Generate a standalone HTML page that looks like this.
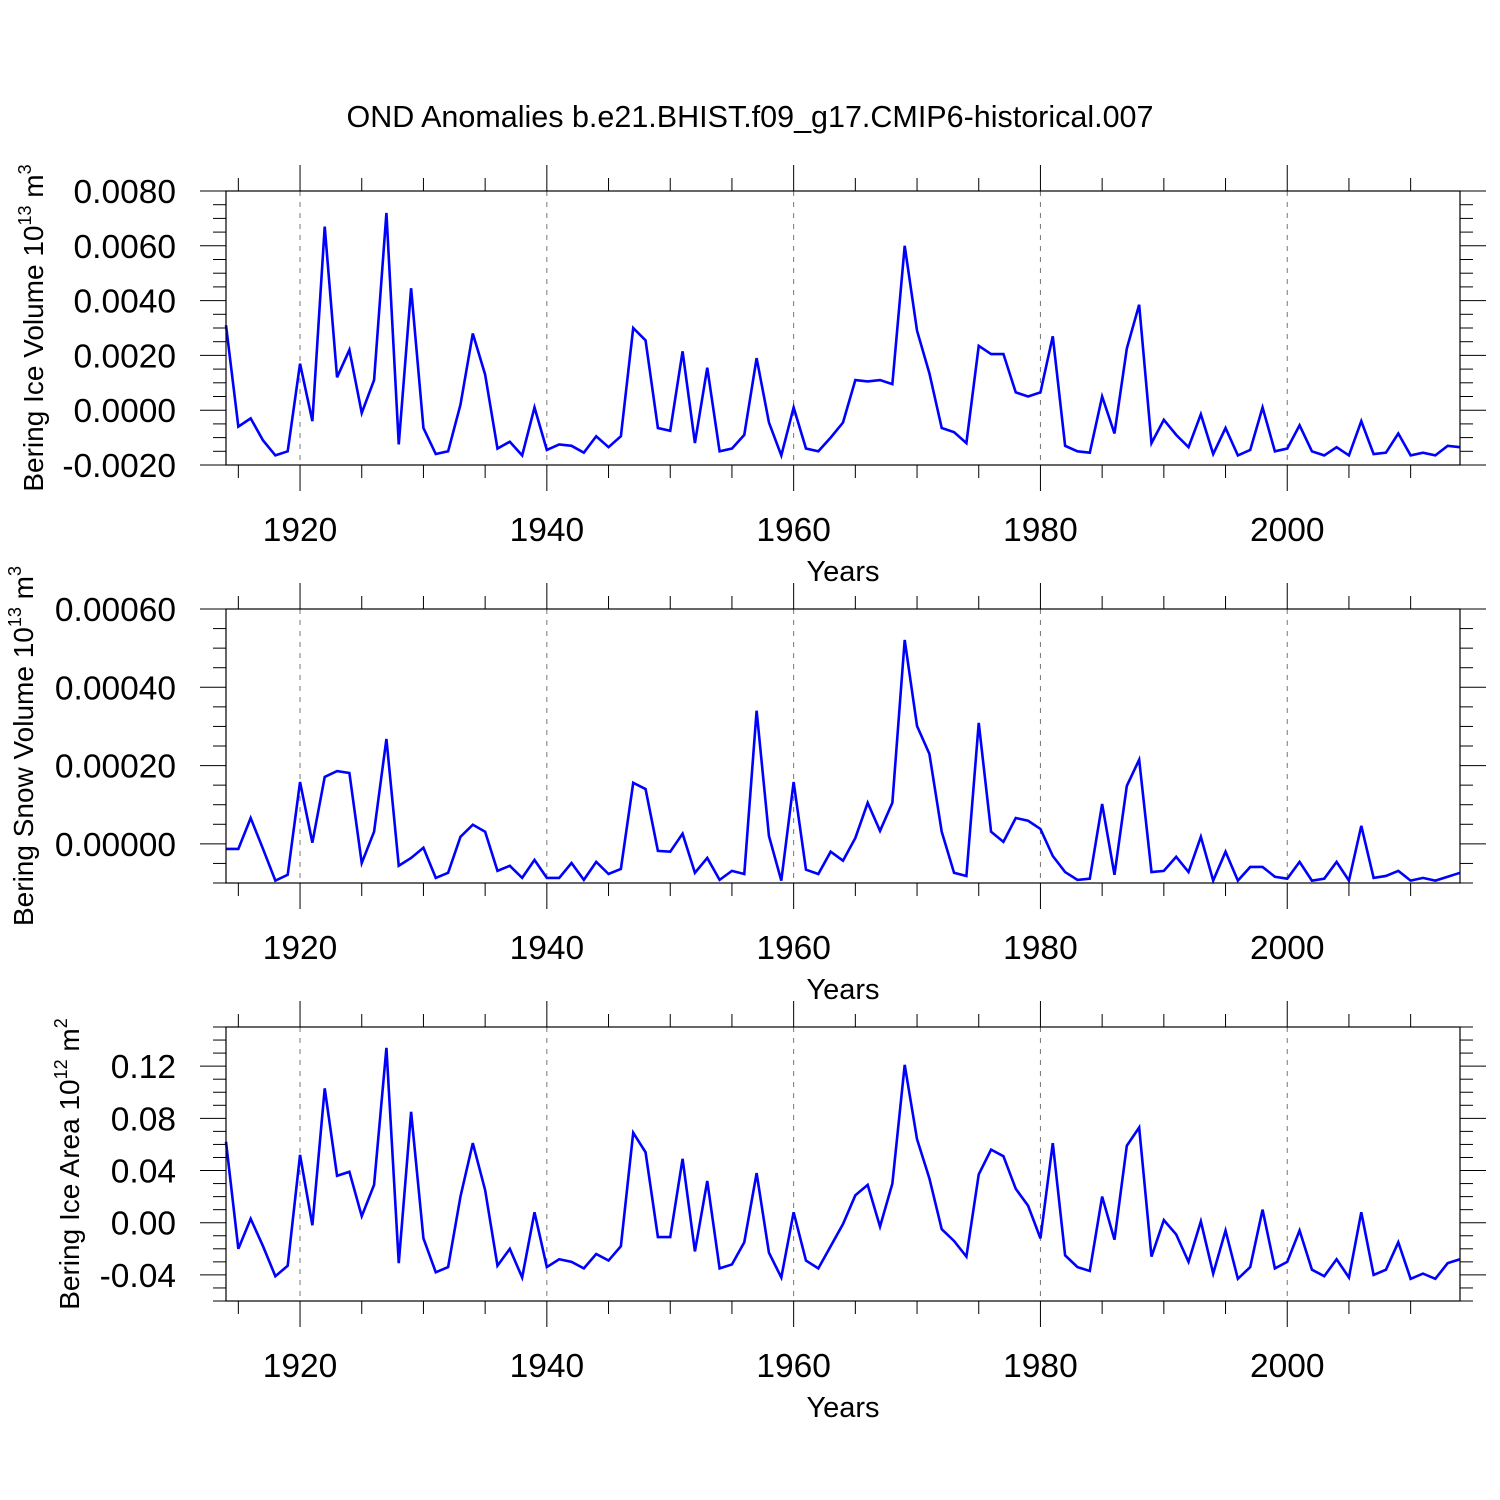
<!DOCTYPE html>
<html><head><meta charset="utf-8"><style>
html,body{margin:0;padding:0;background:#fff;}
svg{display:block;font-family:"Liberation Sans",Arial,sans-serif;}
</style></head><body>
<svg id="chart" width="1500" height="1500" viewBox="0 0 1500 1500" xmlns="http://www.w3.org/2000/svg">
<rect width="1500" height="1500" fill="#fff"/>
<text x="750" y="127" font-size="30.5" text-anchor="middle">OND Anomalies b.e21.BHIST.f09_g17.CMIP6-historical.007</text>
</svg>
<script>
const years = [];
for (let y = 1914; y <= 2014; y++) years.push(y);
const iceVolume = [3.1,-0.6,-0.3,-1.1,-1.65,-1.5,1.7,-0.4,6.7,1.2,2.2,-0.1,1.1,7.2,-1.25,4.45,-0.65,-1.6,-1.5,0.2,2.8,1.3,-1.4,-1.15,-1.65,0.1,-1.45,-1.25,-1.3,-1.55,-0.95,-1.35,-0.95,3.0,2.55,-0.65,-0.75,2.15,-1.2,1.55,-1.5,-1.4,-0.9,1.9,-0.45,-1.65,0.1,-1.4,-1.5,-1.0,-0.45,1.1,1.05,1.1,0.95,6.0,2.9,1.35,-0.65,-0.8,-1.2,2.35,2.05,2.05,0.65,0.5,0.65,2.7,-1.3,-1.5,-1.55,0.5,-0.85,2.25,3.85,-1.2,-0.35,-0.9,-1.35,-0.15,-1.6,-0.65,-1.65,-1.45,0.1,-1.5,-1.4,-0.55,-1.5,-1.65,-1.35,-1.65,-0.4,-1.6,-1.55,-0.85,-1.65,-1.55,-1.65,-1.3,-1.35].map(v=>v*0.001);
const snowVolume = [-1.3,-1.3,6.6,-1.3,-9.4,-7.9,15.8,0.3,17.1,18.6,18.1,-4.9,3.1,26.8,-5.6,-3.6,-1.0,-8.7,-7.4,1.8,4.9,3.1,-6.9,-5.6,-8.7,-4.1,-8.7,-8.7,-4.9,-9.2,-4.6,-7.7,-6.4,15.6,14.0,-1.8,-2.0,2.6,-7.4,-3.6,-9.2,-6.9,-7.7,34.0,2.0,-9.4,15.8,-6.6,-7.7,-2.0,-4.3,1.5,10.5,3.3,10.5,52.1,30.1,23.0,3.1,-7.4,-8.2,30.9,3.1,0.5,6.6,5.9,3.8,-3.1,-7.2,-9.2,-8.9,10.2,-7.9,14.8,21.5,-7.2,-6.9,-3.3,-7.2,1.8,-9.4,-2.0,-9.4,-5.9,-5.9,-8.4,-8.9,-4.6,-9.4,-8.9,-4.6,-9.4,4.6,-8.7,-8.2,-6.9,-9.4,-8.7,-9.4,-8.4,-7.4].map(v=>v*0.00001);
const iceArea = [62,-20,3,-18,-41,-33,52,-2,103,36,39,5,29,134,-31,85,-12,-38,-34,20,61,25,-33,-20,-42,8,-34,-28,-30,-35,-24,-29,-18,69,54,-11,-11,49,-22,32,-35,-32,-15,38,-23,-42,8,-29,-35,-18,-1,21,29,-3,30,121,64,34,-5,-14,-26,37,56,51,26,13,-12,61,-25,-34,-37,20,-13,59,73,-26,2,-9,-30,1,-39,-6,-43,-34,10,-35,-30,-6,-36,-41,-28,-42,8,-40,-36,-15,-43,-39,-43,-31,-28].map(v=>v*0.001);
const xTickYears = [1920,1940,1960,1980,2000];
const ticks1 = ["0.0080","0.0060","0.0040","0.0020","0.0000","-0.0020"];
const ticks2 = ["0.00060","0.00040","0.00020","0.00000"];
const ticks3 = ["0.12","0.08","0.04","0.00","-0.04"];

const NS='http://www.w3.org/2000/svg';
const svg=document.getElementById('chart');
function mk(tag,attrs,parent){const e=document.createElementNS(NS,tag);for(const k in attrs)e.setAttribute(k,attrs[k]);(parent||svg).appendChild(e);return e;}
const X0=226,X1=1460,YR0=1914,YR1=2014;
const xs=y=>X0+(y-YR0)/(YR1-YR0)*(X1-X0);

function panel(cfg){
  const g=mk('g',{});
  
  
  const {top,bot,ymin,ymax}=cfg;
  const ys=v=>bot-(v-ymin)/(ymax-ymin)*(bot-top);
  xTickYears.forEach(yr=>{
    const l=mk('line',{x1:xs(yr),x2:xs(yr),y1:top,y2:bot,stroke:'#777','stroke-width':1,'stroke-dasharray':'5,6'},g);
    
    
  });
  for(let yr=1915;yr<=2010;yr+=5){
    const major=yr%20===0;const L=major?26:13;
    const x=xs(yr);
    mk('line',{x1:x,x2:x,y1:top-L,y2:top,stroke:'#000','stroke-width':1},g);
    mk('line',{x1:x,x2:x,y1:bot,y2:bot+L,stroke:'#000','stroke-width':1},g);
  }
  const nMinor=Math.round((ymax-ymin)/cfg.minor);
  for(let i=0;i<=nMinor;i++){
    const v=ymin+i*cfg.minor;const y=ys(v);
    const r=(v-cfg.major0)/cfg.major;const major=Math.abs(r-Math.round(r))<1e-6;
    const L=major?26:13;
    mk('line',{x1:X0-L,x2:X0,y1:y,y2:y,stroke:'#000','stroke-width':1},g);
    mk('line',{x1:X1,x2:X1+L,y1:y,y2:y,stroke:'#000','stroke-width':1},g);
  }
  cfg.ticks.forEach(t=>{
    const tx=mk('text',{x:176,y:ys(parseFloat(t))+12,'font-size':33.5,'text-anchor':'end'},g);
    tx.textContent=t;
    
    
  });
  xTickYears.forEach(yr=>{
    const tx=mk('text',{x:xs(yr),y:bot+76,'font-size':33.5,'text-anchor':'middle'},g);
    tx.textContent=yr;
    
    
  });
  const xt=mk('text',{x:843,y:bot+116,'font-size':29,'text-anchor':'middle'},g);
  xt.textContent='Years';
  
  
  const yt=mk('text',{transform:`translate(${cfg.ytx},${(top+bot)/2}) rotate(-90)`,'font-size':28,'text-anchor':'middle'},g);
  yt.innerHTML=cfg.ytitle;
  
  
  const pts=cfg.data.map((v,i)=>xs(years[i]).toFixed(2)+','+ys(v).toFixed(2)).join(' ');
  const pl=mk('polyline',{points:pts,fill:'none',stroke:'#0000ff','stroke-width':2.6,'stroke-linejoin':'miter'},g);
  
  
  const fr=mk('rect',{x:X0,y:top,width:X1-X0,height:bot-top,fill:'none',stroke:'#000','stroke-width':1.2},g);
  
  
}
panel({name:'ice-volume-panel',top:191,bot:465,ymin:-0.002,ymax:0.008,minor:0.0005,major:0.002,major0:0,ticks:ticks1,data:iceVolume,ytx:43,
  ytitle:'Bering Ice Volume 10<tspan dy="-12" font-size="18">13</tspan><tspan dy="12"> m</tspan><tspan dy="-12" font-size="18">3</tspan>'});
panel({name:'snow-volume-panel',top:609,bot:883,ymin:-0.0001,ymax:0.0006,minor:0.00005,major:0.0002,major0:0,ticks:ticks2,data:snowVolume,ytx:33,
  ytitle:'Bering Snow Volume 10<tspan dy="-12" font-size="18">13</tspan><tspan dy="12"> m</tspan><tspan dy="-12" font-size="18">3</tspan>'});
panel({name:'ice-area-panel',top:1027,bot:1301,ymin:-0.06,ymax:0.15,minor:0.01,major:0.04,major0:0,ticks:ticks3,data:iceArea,ytx:79,
  ytitle:'Bering Ice Area 10<tspan dy="-12" font-size="18">12</tspan><tspan dy="12"> m</tspan><tspan dy="-12" font-size="18">2</tspan>'});
</script>
</body></html>
